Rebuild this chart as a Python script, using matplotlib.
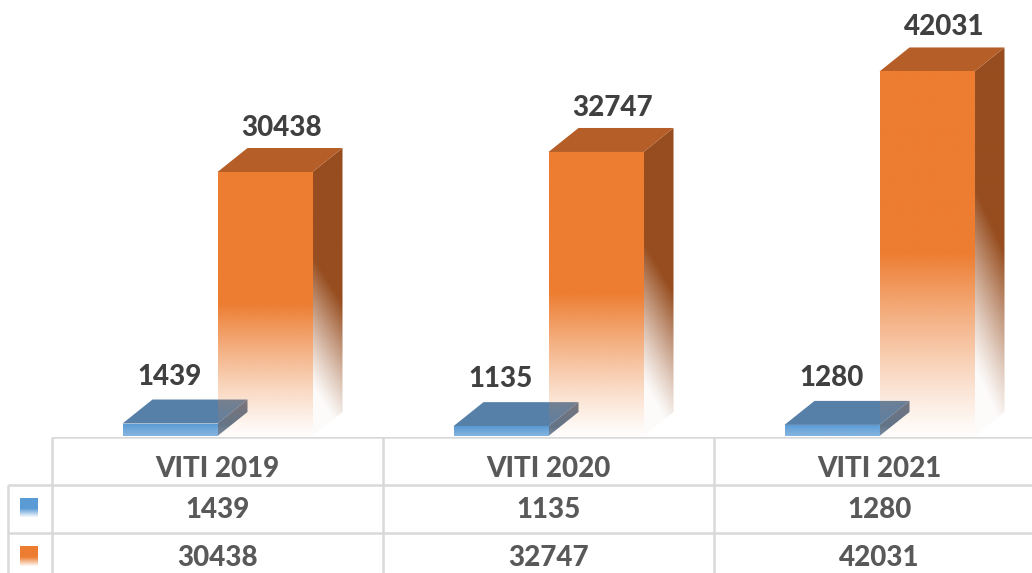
import numpy as np
import matplotlib
matplotlib.use('Agg')
import matplotlib.pyplot as plt
from matplotlib.patches import Polygon
from matplotlib.colors import to_rgb

plt.rcParams['font.family'] = ['Lato', 'DejaVu Sans']

# ---- data ----
categories = ['VITI 2019', 'VITI 2020', 'VITI 2021']
series_blue = [1439, 1135, 1280]
series_orange = [30438, 32747, 42031]

# ---- layout (pixels) ----
W, H = 1032, 573
COL = 331.0          # pixels per category column
LEFT_PX = 52         # left edge of first category column
BASE_PX = 436        # baseline of bars (from top)
YMAX = 50270         # value shown at the top edge of the figure

fig = plt.figure(figsize=(W / 100, H / 100), dpi=100)
fig.patch.set_facecolor('white')

XL = -0.5 - LEFT_PX / COL
XR = 2.5
ax_w = (XR - XL) * COL / W
ax = fig.add_axes([0, 1 - BASE_PX / H, ax_w, BASE_PX / H])
ax.axis('off')

val_per_px = YMAX / BASE_PX
DX = 30 / COL
DY = 24 * val_per_px
BW = 95 / COL
WEIGHT = 'black'


def grad_poly(verts, color, a_top, a_bot, fade_h, zorder, base=0.0, tilt=0.0):
    poly = Polygon(verts, closed=True, facecolor='none', edgecolor='none',
                   transform=ax.transData)
    ax.add_patch(poly)
    xs = [v[0] for v in verts]
    ys = [v[1] for v in verts]
    x0, x1, y0, y1 = min(xs), max(xs), min(ys), max(ys)
    n, m = 400, 40
    yy = np.linspace(y0, y1, n)[:, None]
    xx = np.linspace(0, 1, m)[None, :]
    t = np.clip((yy - base - tilt * (1 - xx) * fade_h) / fade_h, 0, 1)
    alpha = a_bot + (a_top - a_bot) * t ** 1.2
    img = np.zeros((n, m, 4))
    img[:, :, :3] = to_rgb(color)
    img[:, :, 3] = alpha
    im = ax.imshow(img, extent=(x0, x1, y0, y1), origin='lower', aspect='auto',
                   interpolation='bilinear', zorder=zorder)
    im.set_clip_path(poly)


def bar3d(xl, h, c_front, c_top, c_side, fade_frac, a_bot, zorder, side_alpha=1.0, tilt=0.0):
    xr = xl + BW
    front = [(xl, 0), (xr, 0), (xr, h), (xl, h)]
    top = [(xl, h), (xr, h), (xr + DX, h + DY), (xl + DX, h + DY)]
    side = [(xr, 0), (xr + DX, DY), (xr + DX, h + DY), (xr, h)]
    fh = max(h * fade_frac, 1e-6)
    grad_poly(side, c_side, side_alpha, a_bot, fh, zorder, tilt=tilt)
    ax.add_patch(Polygon(top, closed=True, facecolor=c_top, edgecolor='none',
                         alpha=side_alpha, zorder=zorder))
    grad_poly(front, c_front, 1.0, a_bot, fh, zorder + 0.5)


for i, (b, o) in enumerate(zip(series_blue, series_orange)):
    bar3d(i - BW, b, '#5B9BD5', '#43729F', '#4A6480', 0.9, 0.75, 2, side_alpha=0.9)
    bar3d(i, o, '#ED7D31', '#B65E27', '#974D1F', 0.5, 0.02, 3, tilt=0.35)

lab_kw = dict(textcoords='offset pixels', ha='center', va='baseline',
              fontsize=20, fontweight=WEIGHT, color='#404040', zorder=10)
for i, (b, o) in enumerate(zip(series_blue, series_orange)):
    ax.annotate(f'{b}', xy=(i - BW / 2, b), xytext=(0, 39), **lab_kw)
    ax.annotate(f'{o}', xy=(i + BW / 2, o), xytext=(17, 36), **lab_kw)

ax.set_xlim(XL, XR)
ax.set_ylim(0, YMAX)

# ---- data table ----
tax = fig.add_axes([0, 1 - 581 / H, ax_w, 144 / H])
tax.axis('off')
line_kw = dict(color='#D9D9D9', lw=1.8, solid_capstyle='butt', zorder=5)
xin = XL + 8 / COL
tax.plot([-0.5, XR], [0, 0], **line_kw)
tax.plot([xin, XR], [1, 1], **line_kw)
tax.plot([xin, XR], [2, 2], **line_kw)
for xv in [-0.5, 0.5, 1.5]:
    tax.plot([xv, xv], [0, 3], **line_kw)
tax.plot([xin, xin], [1, 3], **line_kw)

txt_kw = dict(ha='center', va='baseline', fontsize=20, fontweight=WEIGHT, color='#595959')
for i, c in enumerate(categories):
    tax.text(i, 0.83, c, **txt_kw)
    tax.text(i, 1.69, f'{series_blue[i]}', **txt_kw)
    tax.text(i, 2.68, f'{series_orange[i]}', **txt_kw)


def legend_swatch(y_top, y_bot, color):
    n = 100
    t = np.linspace(0, 1, n)  # 0 top -> 1 bottom
    alpha = np.where(t < 0.55, 1.0, 1.0 - (t - 0.55) / 0.45 * 0.95)
    img = np.zeros((n, 2, 4))
    img[:, :, :3] = to_rgb(color)
    img[:, :, 3] = alpha[:, None]
    tax.imshow(img, extent=(XL + 20 / COL, XL + 38 / COL, y_bot, y_top),
               origin='upper', aspect='auto', interpolation='bilinear', zorder=6)


legend_swatch(1.29, 1.67, '#5B9BD5')
legend_swatch(2.29, 2.69, '#ED7D31')

tax.set_xlim(XL, XR)
tax.set_ylim(3, 0)

fig.savefig('out.png', dpi=100, facecolor='white')
